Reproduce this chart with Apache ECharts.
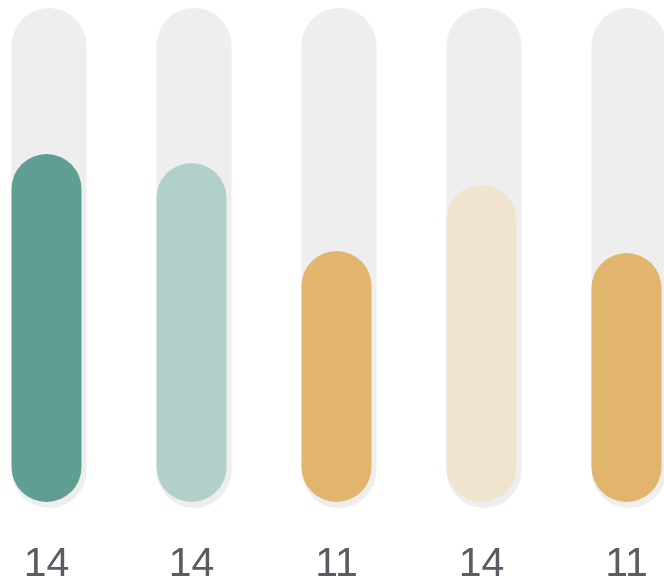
<!DOCTYPE html>
<html>
<head>
<meta charset="utf-8">
<script src="https://cdn.jsdelivr.net/npm/echarts@6/dist/echarts.min.js"></script>
<style>html,body{margin:0;padding:0;background:#fff;overflow:hidden;width:664px;height:578px}#c{width:725px;height:578px;margin-left:-26px}</style>
</head>
<body>
<div id="c"></div>
<script>
// Category labels shown under each pill
var labels = ['14', '14', '11', '14', '11'];
// Filled level of each pill (percent of track)
var values = [69.6, 67.8, 50.2, 63.4, 49.8];
// Track (background) level
var trackValues = [100, 100, 100, 100, 100];
// Small lift of the fill above the track bottom
var baseValues = [1.2, 1.2, 1.2, 1.2, 1.2];
var colors = ['#609e93', '#b2d0cb', '#e2b56e', '#f0e4cf', '#e2b56e'];

var chart = echarts.init(document.getElementById('c'));
chart.setOption({
  animation: false,
  grid: { left: 0, right: 0, top: 8, bottom: 70, outerBoundsMode: 'none', containLabel: false },
  xAxis: {
    type: 'category',
    data: labels,
    axisLine: { show: false },
    axisTick: { show: false },
    axisLabel: {
      margin: 36,
      fontSize: 41,
      color: '#5b5b63',
      fontFamily: '"Liberation Sans", Arial, sans-serif'
    }
  },
  yAxis: {
    type: 'value', min: 0, max: 100,
    show: false, splitLine: { show: false }
  },
  series: [
    {
      type: 'bar',
      data: trackValues,
      barWidth: 75,
      barGap: '-100%',
      silent: true,
      itemStyle: { color: '#eeeeee', borderRadius: 37.5 },
      z: 1
    },
    {
      type: 'bar',
      stack: 'fill',
      data: baseValues,
      barWidth: 70,
      barGap: '-100%',
      itemStyle: { color: 'rgba(0,0,0,0)' },
      z: 2
    },
    {
      type: 'bar',
      stack: 'fill',
      data: values.map(function (v, i) { return { value: v, itemStyle: { color: colors[i] } }; }),
      barWidth: 70,
      barGap: '-100%',
      itemStyle: { borderRadius: 35 },
      z: 3
    }
  ]
});
</script>
</body>
</html>
